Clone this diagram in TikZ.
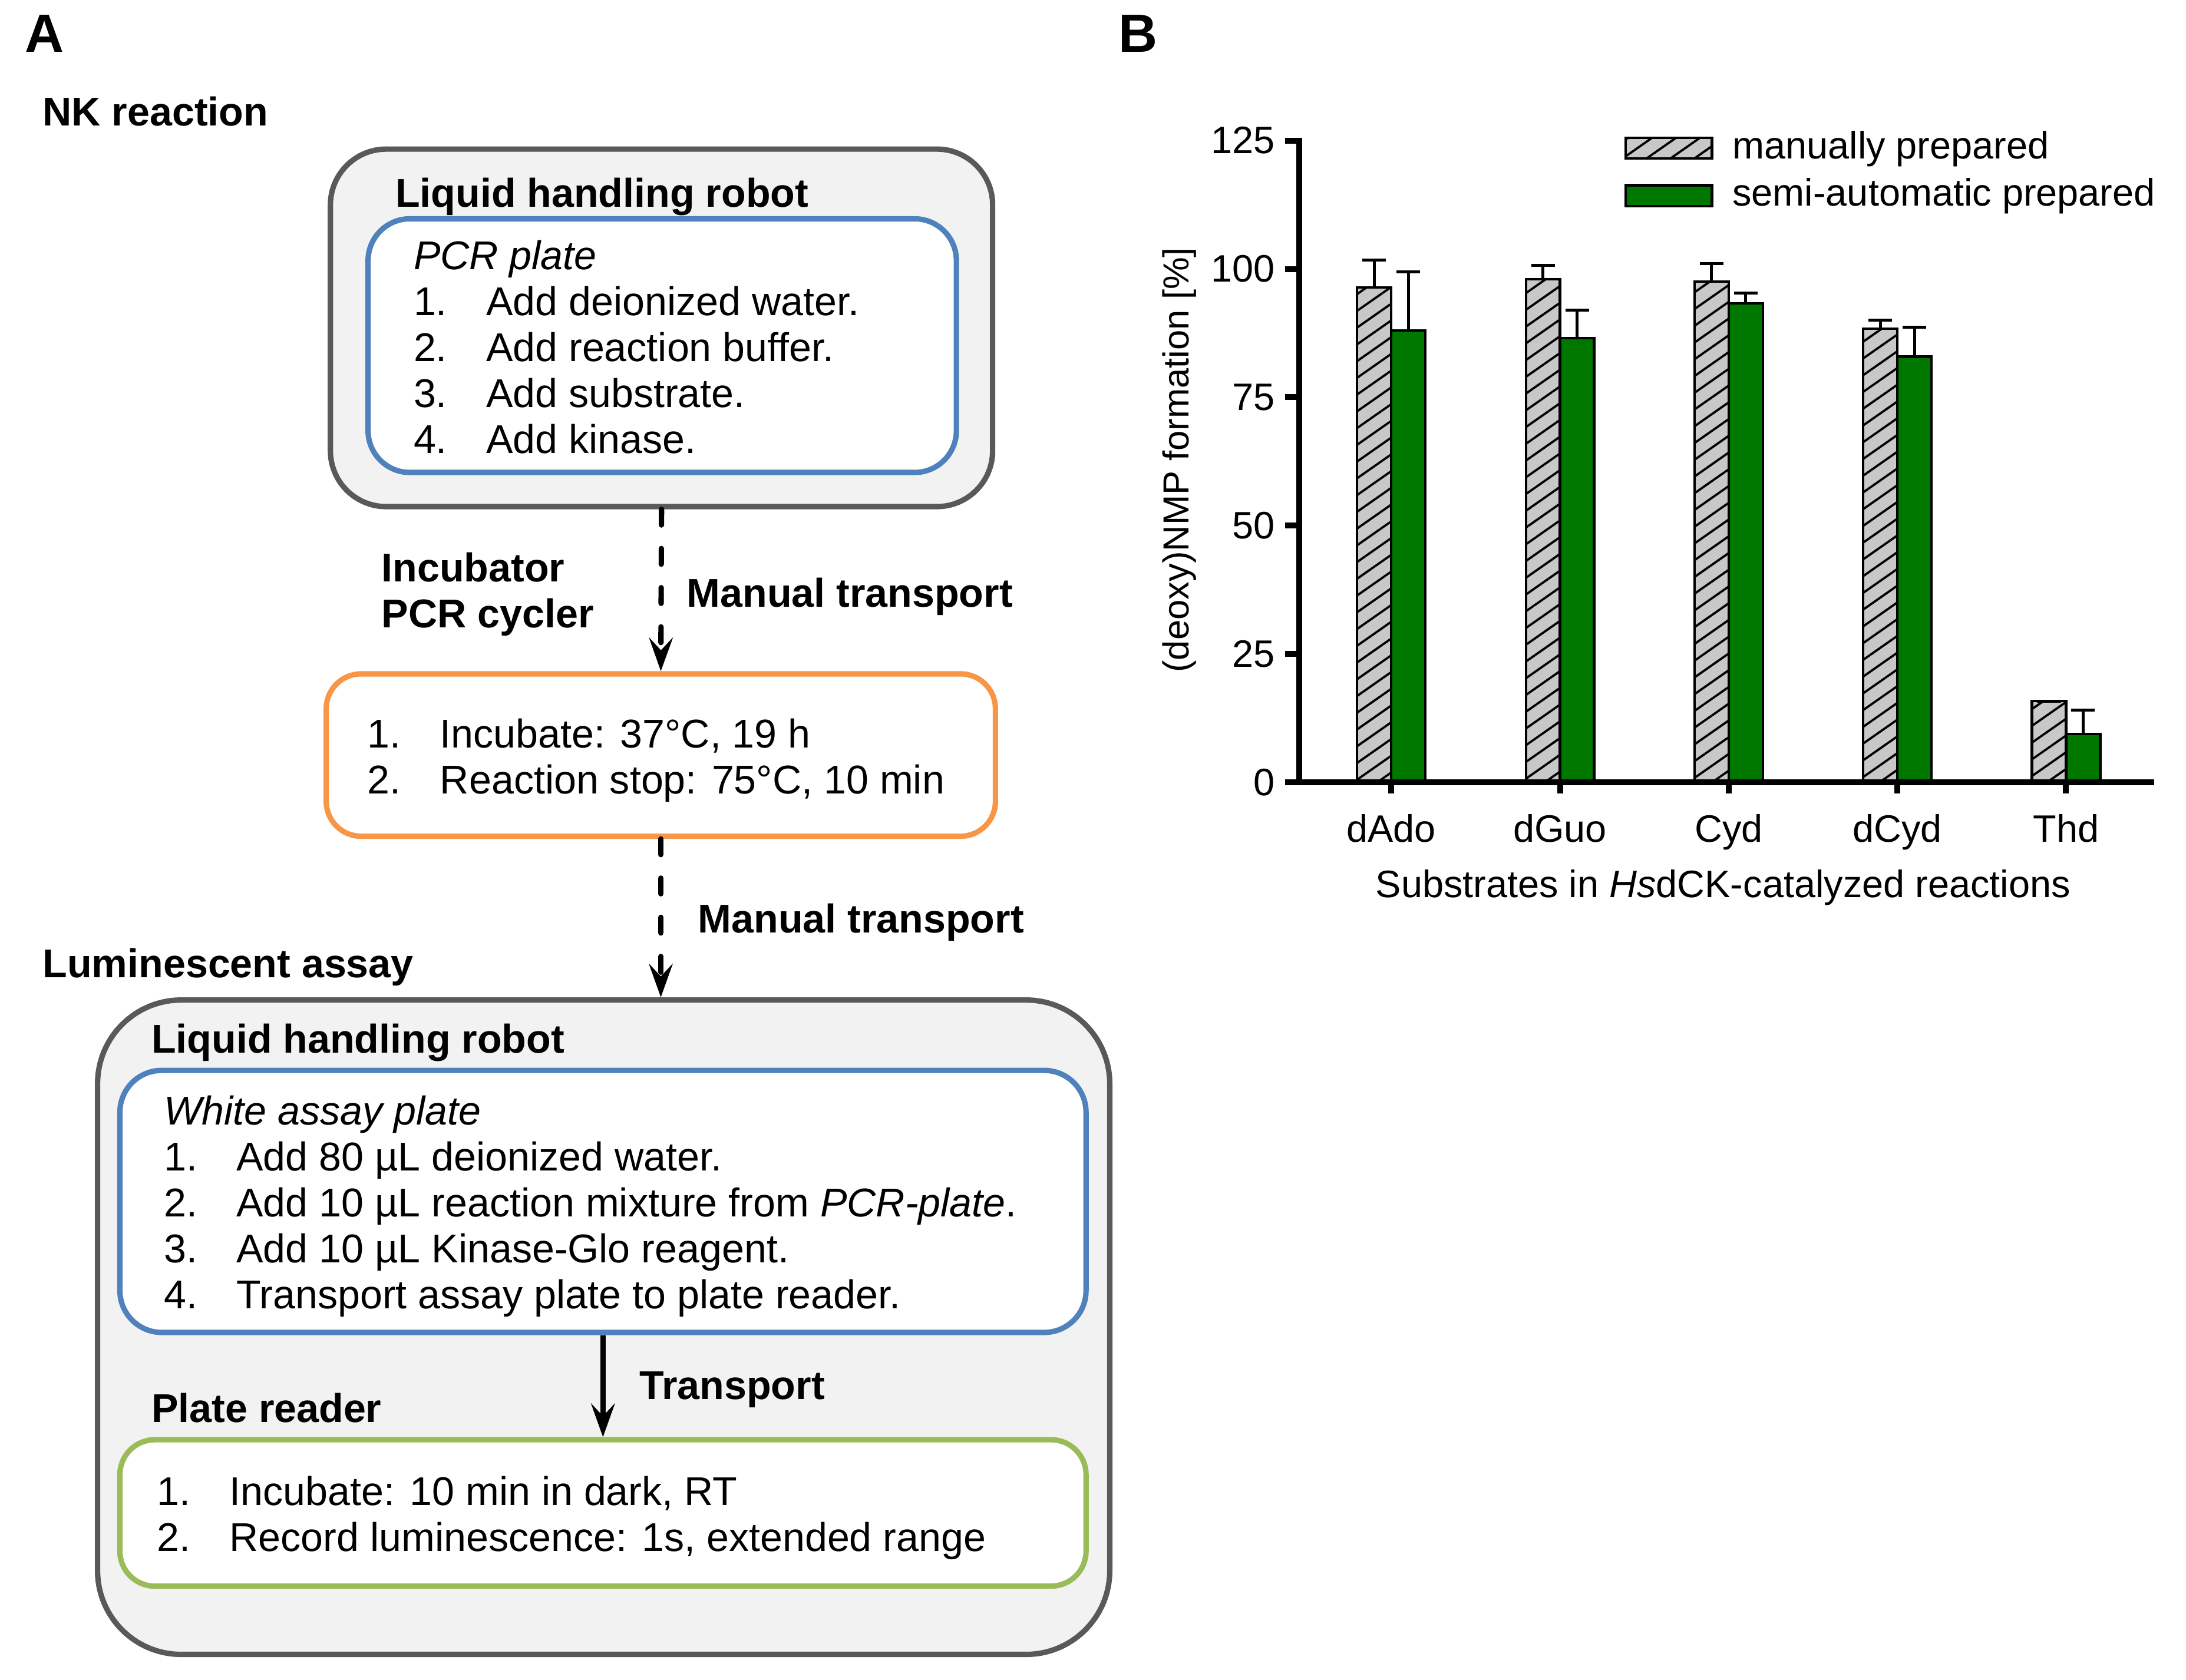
\documentclass[tikz,border=0pt]{standalone}
\usepackage{fontspec}
\setmainfont{Liberation Sans}
\usetikzlibrary{arrows.meta,patterns.meta}

\definecolor{robotGray}{HTML}{F2F2F2}
\definecolor{robotEdge}{HTML}{595959}
\definecolor{plateBlue}{HTML}{4F81BD}
\definecolor{cyclerOrange}{HTML}{F79646}
\definecolor{readerGreen}{HTML}{9BBB59}
\definecolor{barGreen}{HTML}{007800}
\definecolor{barGray}{HTML}{C8C8C8}

\newcommand{\stepitem}[2]{\makebox[0.52cm][l]{#1}#2}

\begin{document}
\begin{tikzpicture}[
  robotbox/.style={draw=robotEdge,fill=robotGray,line width=1.1pt,rounded corners=0.4cm,inner sep=0pt},
  platebox/.style={draw=plateBlue,fill=white,line width=1.1pt,rounded corners=0.3cm,inner sep=0pt},
  cyclerbox/.style={draw=cyclerOrange,fill=white,line width=1.1pt,rounded corners=0.25cm,inner sep=0pt},
  readerbox/.style={draw=readerGreen,fill=white,line width=1.1pt,rounded corners=0.25cm,inner sep=0pt},
  steptext/.style={align=left,anchor=west,inner sep=0pt,font=\fontsize{8.2}{9.36}\selectfont},
  headtext/.style={align=left,anchor=west,inner sep=0pt,font=\fontsize{8.2}{9.36}\selectfont\bfseries},
  paneltext/.style={inner sep=0pt,font=\fontsize{11}{13}\selectfont\bfseries},
  manualarrow/.style={line width=1.1pt,dash pattern=on 3.2pt off 4.8pt,line cap=round,-{Stealth[length=2.4mm,width=1.7mm,inset=0.9mm]}},
  transportarrow/.style={line width=1.1pt,-{Stealth[length=2.4mm,width=1.7mm,inset=0.9mm]}},
  charttext/.style={inner sep=0pt,font=\fontsize{7.8}{9}\selectfont},
  manbar/.style={draw,line width=0.5pt,preaction={fill=barGray},pattern={Lines[angle=35,distance=2.8pt,line width=0.45pt]}},
  semibar/.style={draw,line width=0.5pt,fill=barGreen},
  errbar/.style={line width=0.6pt},
  chartaxis/.style={line width=1.2pt,line cap=rect},
]
\useasboundingbox (0,0) rectangle (15.68,-12.05);

% panel A
\node[paneltext] (labelA) at (0.32,-0.24) {A};
\node[headtext] (nkhead) at (0.30,-0.80) {NK reaction};

\node[robotbox,minimum width=4.75cm,minimum height=2.565cm] (nkrobot) at (4.745,-2.3525) {};
\node[headtext] (nkrobothead) at (2.83,-1.41) {Liquid handling robot};
\node[platebox,minimum width=4.22cm,minimum height=1.82cm] (pcrplate) at (4.75,-2.48) {};
\node[steptext] (pcrsteps) at (2.96,-2.49) {\textit{PCR plate}\\
  \stepitem{1.}{Add deionized water.}\\
  \stepitem{2.}{Add reaction buffer.}\\
  \stepitem{3.}{Add substrate.}\\
  \stepitem{4.}{Add kinase.}};

\node[headtext] (cyclerhead) at (2.73,-4.265) {Incubator\\PCR cycler};
\node[headtext] (transport1) at (4.92,-4.28) {Manual transport};
\node[cyclerbox,minimum width=4.80cm,minimum height=1.165cm] (cycler) at (4.74,-5.4175) {};
\node[steptext] (cyclersteps) at (2.63,-5.455) {\stepitem{1.}{Incubate: 37°C, 19 h}\\
  \stepitem{2.}{Reaction stop: 75°C, 10 min}};

\node[headtext] (transport2) at (5.00,-6.62) {Manual transport};
\node[headtext] (lumhead) at (0.30,-6.94) {Luminescent assay};

\node[robotbox,rounded corners=0.6cm,minimum width=7.26cm,minimum height=4.695cm] (lumrobot) at (4.33,-9.5225) {};
\node[headtext] (lumrobothead) at (1.08,-7.48) {Liquid handling robot};
\node[platebox,minimum width=6.93cm,minimum height=1.88cm] (assayplate) at (4.325,-8.62) {};
\node[steptext] (assaysteps) at (1.17,-8.655) {\textit{White assay plate}\\
  \stepitem{1.}{Add 80 µL deionized water.}\\
  \stepitem{2.}{Add 10 µL reaction mixture from \textit{PCR-plate}.}\\
  \stepitem{3.}{Add 10 µL Kinase-Glo reagent.}\\
  \stepitem{4.}{Transport assay plate to plate reader.}};

\node[headtext] (transport3) at (4.58,-9.97) {Transport};
\node[headtext] (readerhead) at (1.08,-10.10) {Plate reader};
\node[readerbox,minimum width=6.93cm,minimum height=1.05cm] (reader) at (4.325,-10.855) {};
\node[steptext] (readersteps) at (1.12,-10.89) {\stepitem{1.}{Incubate: 10 min in dark, RT}\\
  \stepitem{2.}{Record luminescence: 1s, extended range}};

\draw[manualarrow] (nkrobot.south) -- (cycler.north);
\draw[manualarrow] (cycler.south) -- (cycler.south |- lumrobot.north);
\draw[transportarrow] (assayplate.south) -- (reader.north);

% panel B
\node[paneltext] (labelB) at (8.165,-0.24) {B};

\begin{scope}[shift={(9.32,-5.613)},x=1.21cm,y=0.03683cm]
\foreach \i/\m/\me/\s/\se/\name in {1/96.4/101.7/88.0/99.4/dAdo,2/98.0/100.7/86.5/92.0/dGuo,
    3/97.5/101.0/93.3/95.3/Cyd,4/88.4/90.0/82.9/88.6/dCyd,5/15.8/15.8/9.4/14.1/Thd}{
  \pgfmathsetmacro{\c}{\i-0.455}
  \draw[manbar] (\c-0.2025,0) rectangle (\c,\m);
  \draw[semibar] (\c,0) rectangle (\c+0.2025,\s);
  \draw[errbar] (\c-0.10125,\m) -- (\c-0.10125,\me) (\c-0.17125,\me) -- (\c-0.03125,\me);
  \draw[errbar] (\c+0.10125,\s) -- (\c+0.10125,\se) (\c+0.03125,\se) -- (\c+0.17125,\se);
  \draw[line width=1.2pt] (\c,0) -- (\c,-2.2);
  \node[charttext,anchor=base] (cat\i) at (\c,-11.6) {\name};
}
\draw[chartaxis] (0,125) -- (0,0) -- (5.05,0);
\foreach \v in {0,25,...,125}{
  \draw[line width=1.2pt] (0,\v) -- (-0.083,\v);
  \node[charttext,anchor=east] (tick\v) at (-0.14,\v) {\v};
}
\node[charttext,anchor=base] (xlabel) at (2.512,-22.4) {Substrates in \textit{Hs}dCK-catalyzed reactions};
\node[charttext,rotate=90,font=\fontsize{7.4}{9}\selectfont] (ylabel) at (-0.711,62.8) {(deoxy)NMP formation [\%]};

\draw[manbar] (1.934,121.5) rectangle (2.446,125.5);
\node[charttext,anchor=west] (legman) at (2.562,123.4) {manually prepared};
\draw[semibar] (1.934,112.2) rectangle (2.446,116.3);
\node[charttext,anchor=west] (legsemi) at (2.562,114.2) {semi-automatic prepared};
\end{scope}
\end{tikzpicture}
\end{document}
